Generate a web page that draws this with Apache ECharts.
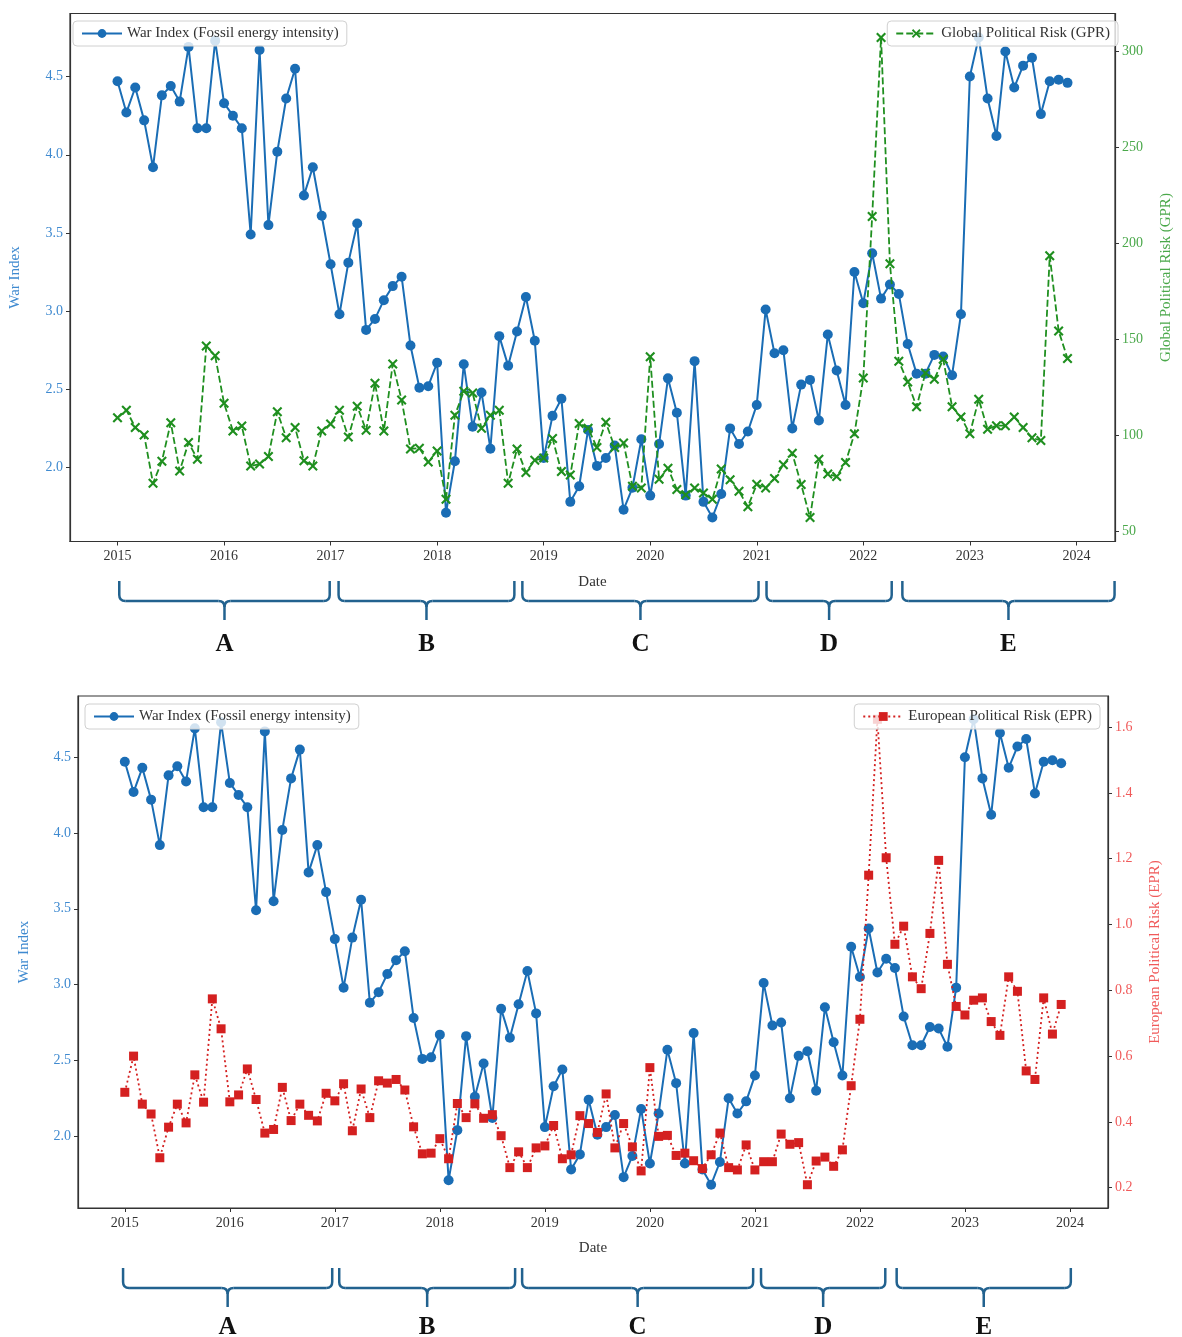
<!DOCTYPE html>
<html>
<head>
<meta charset="utf-8">
<script src="https://cdn.jsdelivr.net/npm/echarts@6/dist/echarts.min.js"></script>
<style>
  html, body { margin: 0; padding: 0; background: #fff; }
  #main { width: 1182px; height: 1337px; }
</style>
</head>
<body>
<div id="main"></div>
<script>
// monthly, 2015-01 .. 2023-12 (index 0 = Jan 2015)
const warIndex = [
  4.47, 4.27, 4.43, 4.22, 3.92, 4.38, 4.44, 4.34, 4.69, 4.17, 4.17, 4.73,
  4.33, 4.25, 4.17, 3.49, 4.67, 3.55, 4.02, 4.36, 4.55, 3.74, 3.92, 3.61,
  3.30, 2.98, 3.31, 3.56, 2.88, 2.95, 3.07, 3.16, 3.22, 2.78, 2.51, 2.52,
  2.67, 1.71, 2.04, 2.66, 2.26, 2.48, 2.12, 2.84, 2.65, 2.87, 3.09, 2.81,
  2.06, 2.33, 2.44, 1.78, 1.88, 2.24, 2.01, 2.06, 2.14, 1.73, 1.87, 2.18,
  1.82, 2.15, 2.57, 2.35, 1.82, 2.68, 1.78, 1.68, 1.83, 2.25, 2.15, 2.23,
  2.40, 3.01, 2.73, 2.75, 2.25, 2.53, 2.56, 2.30, 2.85, 2.62, 2.40, 3.25,
  3.05, 3.37, 3.08, 3.17, 3.11, 2.79, 2.60, 2.60, 2.72, 2.71, 2.59, 2.98,
  4.50, 4.75, 4.36, 4.12, 4.66, 4.43, 4.57, 4.62, 4.26, 4.47, 4.48, 4.46
];
const gpr = [
  108.9, 112.9, 103.9, 100.0, 74.8, 86.3, 106.4, 81.2, 96.0, 87.4, 146.3, 141.2,
  116.5, 102.1, 104.6, 83.8, 84.8, 88.8, 112.1, 98.5, 103.9, 86.6, 83.8, 102.1,
  105.7, 112.9, 98.9, 115.0, 102.4, 126.9, 102.1, 136.9, 118.2, 92.7, 93.1, 85.9,
  91.7, 66.5, 110.2, 122.7, 121.8, 103.5, 110.2, 112.9, 74.8, 92.7, 80.5, 86.8,
  88.0, 98.1, 80.9, 79.1, 106.0, 103.5, 93.5, 106.6, 93.5, 95.8, 73.3, 72.4,
  140.7, 76.9, 82.7, 71.6, 68.9, 72.3, 69.8, 66.5, 82.3, 76.6, 70.7, 62.6,
  74.3, 72.4, 77.3, 84.5, 90.4, 74.2, 57.0, 87.4, 79.6, 78.4, 85.6, 100.6,
  129.7, 213.8, 307.0, 189.2, 138.4, 127.6, 114.7, 132.3, 129.0, 139.4, 114.7, 109.3,
  100.6, 118.6, 103.0, 104.8, 104.8, 109.3, 103.9, 98.5, 97.1, 193.3, 154.2, 139.8
];
const epr = [
  0.490, 0.600, 0.454, 0.424, 0.291, 0.384, 0.454, 0.397, 0.543, 0.460, 0.774, 0.683,
  0.461, 0.482, 0.561, 0.468, 0.366, 0.377, 0.505, 0.404, 0.454, 0.420, 0.403, 0.487,
  0.464, 0.516, 0.373, 0.500, 0.413, 0.525, 0.518, 0.529, 0.497, 0.385, 0.303, 0.305,
  0.349, 0.288, 0.456, 0.413, 0.455, 0.411, 0.422, 0.358, 0.261, 0.309, 0.261, 0.321,
  0.327, 0.389, 0.288, 0.300, 0.419, 0.395, 0.368, 0.485, 0.321, 0.395, 0.324, 0.251,
  0.565, 0.356, 0.359, 0.298, 0.305, 0.282, 0.258, 0.300, 0.366, 0.261, 0.254, 0.330,
  0.254, 0.279, 0.279, 0.363, 0.332, 0.337, 0.209, 0.281, 0.293, 0.265, 0.315, 0.510,
  0.712, 1.150, 1.624, 1.203, 0.940, 0.995, 0.841, 0.805, 0.973, 1.195, 0.879, 0.751,
  0.725, 0.770, 0.777, 0.705, 0.663, 0.841, 0.797, 0.555, 0.529, 0.777, 0.667, 0.757
];

const yearTicks = [0, 12, 24, 36, 48, 60, 72, 84, 96, 108];   // Jan of 2015..2024
const warTicks = [2.0, 2.5, 3.0, 3.5, 4.0, 4.5];
const gprTicks = [50, 100, 150, 200, 250, 300];
const eprTicks = [0.2, 0.4, 0.6, 0.8, 1.0, 1.2, 1.4, 1.6];
const periodNames = ['A', 'B', 'C', 'D', 'E'];
// brace spans, in months from Jan 2015
const topPeriods = [[0.2, 23.9], [24.9, 44.7], [45.6, 72.2], [73.1, 87.2], [88.4, 112.3]];
const bottomPeriods = [[-0.2, 23.7], [24.5, 44.6], [45.4, 71.8], [72.7, 86.9], [88.2, 108.1]];

const WAR_NAME = 'War Index (Fossil energy intensity)';
const GPR_NAME = 'Global Political Risk (GPR)';
const EPR_NAME = 'European Political Risk (EPR)';

const FONT = '"Liberation Serif", "DejaVu Serif", serif';
const blue = '#1a6db5', blueText = '#3f8ad0';
const green = '#1f8f1f', greenText = '#4aa84a';
const red = '#d42020', redText = '#f05a5a';
const braceColor = '#22628f';

// thin "x" marker
const xSymbol = 'path://M1.5,0 L5,3.5 L8.5,0 L10,1.5 L6.5,5 L10,8.5 L8.5,10 L5,6.5 L1.5,10 L0,8.5 L3.5,5 L0,1.5 Z';

// matplotlib-like 5% margins
const pad = (arr) => {
  const lo = Math.min(...arr), hi = Math.max(...arr), s = hi - lo;
  return [lo - 0.05 * s, hi + 0.05 * s];
};
const warRange = pad(warIndex), gprRange = pad(gpr), eprRange = pad(epr);
const xMin = -0.05 * 107, xMax = 107 + 0.05 * 107;

const pts = (arr) => arr.map((v, i) => [i, v]);

const xAxisBase = (gridIndex) => ({
  type: 'value', gridIndex: gridIndex, min: xMin, max: xMax,
  name: 'Date', nameLocation: 'middle', nameGap: 33,
  nameTextStyle: { fontFamily: FONT, fontSize: 15, color: '#333' },
  axisLine: { show: true, onZero: false, lineStyle: { color: '#333', width: 1.2 } },
  axisTick: { show: true, customValues: yearTicks, length: 4, lineStyle: { color: '#333' } },
  axisLabel: {
    customValues: yearTicks, margin: 8,
    formatter: (v) => String(2015 + Math.round(v / 12)),
    fontFamily: FONT, fontSize: 14, color: '#333'
  },
  splitLine: { show: false }
});

const yAxisBase = (gridIndex, pos, range, ticks, digits, textColor, name, gap) => ({
  type: 'value', gridIndex: gridIndex, position: pos,
  min: range[0], max: range[1],
  name: name, nameLocation: 'middle', nameGap: gap, nameRotate: 90,
  nameTextStyle: { fontFamily: FONT, fontSize: 15, color: textColor },
  axisLine: { show: true, onZero: false, lineStyle: { color: '#333', width: 1.2 } },
  axisTick: { show: true, customValues: ticks, length: 4, lineStyle: { color: '#333' } },
  axisLabel: {
    customValues: ticks, margin: 7,
    formatter: (v) => v.toFixed(digits),
    fontFamily: FONT, fontSize: 14, color: textColor
  },
  splitLine: { show: false }
});

const legendBase = {
  orient: 'horizontal',
  itemWidth: 40, itemHeight: 11,
  padding: [5, 8],
  borderColor: '#d0d0d0', borderWidth: 1, borderRadius: 4,
  backgroundColor: 'rgba(255,255,255,0.8)',
  textStyle: { fontFamily: FONT, fontSize: 15, color: '#333' },
  selectedMode: false
};

const chart = echarts.init(document.getElementById('main'));

const option = {
  backgroundColor: '#fff',
  animation: false,
  grid: [
    { left: 65, right: 56, top: 13.5, height: 528, show: true, borderColor: '#333', borderWidth: 1.2 },
    { left: 78, right: 74, top: 696, height: 512, show: true, borderColor: '#333', borderWidth: 1.2 }
  ],
  xAxis: [xAxisBase(0), xAxisBase(1)],
  yAxis: [
    yAxisBase(0, 'left', warRange, warTicks, 1, blueText, 'War Index', 47),
    yAxisBase(0, 'right', gprRange, gprTicks, 0, greenText, 'Global Political Risk (GPR)', 44),
    yAxisBase(1, 'left', warRange, warTicks, 1, blueText, 'War Index', 46),
    yAxisBase(1, 'right', eprRange, eprTicks, 1, redText, 'European Political Risk (EPR)', 40)
  ],
  legend: [
    Object.assign({}, legendBase, { data: [WAR_NAME], left: 73, top: 21 }),
    Object.assign({}, legendBase, { data: [GPR_NAME], right: 64, top: 21 }),
    Object.assign({}, legendBase, { data: [WAR_NAME], left: 85, top: 704 }),
    Object.assign({}, legendBase, { data: [EPR_NAME], right: 82, top: 704 })
  ],
  series: [
    {
      name: WAR_NAME, type: 'line', xAxisIndex: 0, yAxisIndex: 0,
      data: pts(warIndex), symbol: 'circle', symbolSize: 10, z: 2,
      lineStyle: { color: blue, width: 2 }, itemStyle: { color: blue }
    },
    {
      name: GPR_NAME, type: 'line', xAxisIndex: 0, yAxisIndex: 1,
      data: pts(gpr), symbol: xSymbol, symbolSize: 10, z: 3,
      lineStyle: { color: green, width: 1.8, type: [7, 3] }, itemStyle: { color: green }
    },
    {
      name: WAR_NAME, type: 'line', xAxisIndex: 1, yAxisIndex: 2,
      data: pts(warIndex), symbol: 'circle', symbolSize: 10, z: 2,
      lineStyle: { color: blue, width: 2 }, itemStyle: { color: blue }
    },
    {
      name: EPR_NAME, type: 'line', xAxisIndex: 1, yAxisIndex: 3,
      data: pts(epr), symbol: 'rect', symbolSize: 9, z: 3,
      lineStyle: { color: red, width: 1.8, type: [2, 3] }, itemStyle: { color: red }
    }
  ]
};

chart.setOption(option);

// curly braces under each panel, placed through the x axis scale
function braces(axisIndex, periods, yTop, yMid, yTip, yLabel) {
  const out = [];
  const r = 6;
  const st = { stroke: braceColor, lineWidth: 2.5, fill: null };
  const seg = (x1, y1, x2, y2) => ({ type: 'line', silent: true, shape: { x1, y1, x2, y2 }, style: st });
  const crv = (x1, y1, cx, cy, x2, y2) => ({
    type: 'bezierCurve', silent: true,
    shape: { x1, y1, x2, y2, cpx1: cx, cpy1: cy }, style: st
  });
  periods.forEach((p, k) => {
    const xa = chart.convertToPixel({ xAxisIndex: axisIndex }, p[0]);
    const xb = chart.convertToPixel({ xAxisIndex: axisIndex }, p[1]);
    const xm = (xa + xb) / 2;
    out.push(
      seg(xa, yTop, xa, yMid - r),
      crv(xa, yMid - r, xa, yMid, xa + r, yMid),
      seg(xa + r, yMid, xm - r, yMid),
      crv(xm - r, yMid, xm, yMid, xm, yMid + r),
      crv(xm + r, yMid, xm, yMid, xm, yMid + r),
      seg(xm, yMid + r, xm, yTip),
      seg(xm + r, yMid, xb - r, yMid),
      crv(xb - r, yMid, xb, yMid, xb, yMid - r),
      seg(xb, yMid - r, xb, yTop)
    );
    out.push({
      type: 'text', silent: true,
      style: {
        text: periodNames[k], x: xm, y: yLabel, align: 'center', verticalAlign: 'middle',
        fontFamily: FONT, fontSize: 25, fontWeight: 'bold', fill: '#111'
      }
    });
  });
  return out;
}

chart.setOption({
  graphic: braces(0, topPeriods, 581, 601, 620, 645)
    .concat(braces(1, bottomPeriods, 1268, 1288, 1307, 1328))
});
</script>
</body>
</html>
